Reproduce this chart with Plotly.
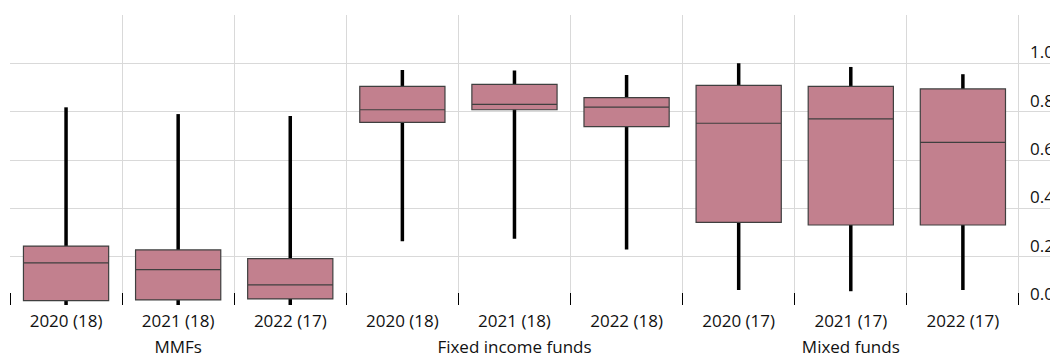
import plotly.graph_objects as go

# Fund groups and years (number of funds in brackets)
group_names = ["MMFs", "Fixed income funds", "Mixed funds"]
years = ["2020 (18)", "2021 (18)", "2022 (17)",
         "2020 (18)", "2021 (18)", "2022 (18)",
         "2020 (17)", "2021 (17)", "2022 (17)"]

# Distribution statistics per fund group and year
minimum = [0.0, 0.0, 0.0, 0.264, 0.274, 0.230, 0.062, 0.057, 0.062]
q1 = [0.018, 0.021, 0.025, 0.756, 0.808, 0.738, 0.342, 0.331, 0.331]
median = [0.174, 0.146, 0.083, 0.808, 0.830, 0.819, 0.752, 0.770, 0.673]
q3 = [0.244, 0.228, 0.192, 0.905, 0.913, 0.858, 0.909, 0.905, 0.894]
maximum = [0.818, 0.790, 0.782, 0.972, 0.970, 0.952, 1.0, 0.985, 0.955]

y_ticks = [0.0, 0.2, 0.4, 0.6, 0.8, 1.0, 1.2]
y_tick_text = ["0.0", "0.2", "0.4", "0.6", "0.8", "1.0", ""]

BOX_FILL = "#C2808E"
BOX_EDGE = "#3F3F3F"
GRID = "#D9D9D9"
FONT = "Open Sans"

# Category slots: one per year, three per group
pos = list(range(len(years)))
boundaries = [p - 0.5 for p in pos] + [pos[-1] + 0.5]
group_centers = [pos[3 * i + 1] for i in range(len(group_names))]

# Min-max ranges as thick capless error bars around the median, behind the boxes
err_up = [hi - m for hi, m in zip(maximum, median)]
err_down = [m - lo for m, lo in zip(median, minimum)]

fig = go.Figure()
fig.add_trace(go.Scatter(
    x=pos, y=median, mode="markers",
    marker=dict(size=1, color="rgba(0,0,0,0)"),
    error_y=dict(type="data", symmetric=False, array=err_up,
                 arrayminus=err_down, width=0, thickness=3.5,
                 color="#000000"),
    hoverinfo="skip", showlegend=False,
))
fig.add_trace(go.Box(
    x=pos, xaxis="x2",
    q1=q1, median=median, q3=q3,
    lowerfence=q1, upperfence=q3,
    fillcolor=BOX_FILL,
    line=dict(color=BOX_EDGE, width=1.2),
    whiskerwidth=0, width=0.76,
    boxpoints=False, showlegend=False, hoverinfo="skip",
))

fig.update_layout(
    width=1050, height=358,
    margin=dict(l=10, r=0, t=15, b=53, autoexpand=False),
    paper_bgcolor="white", plot_bgcolor="white",
    font=dict(family=FONT, size=17, color="#111111"),
    xaxis=dict(
        range=[-0.5, 8.777], automargin=False,
        tickmode="array", tickvals=pos, ticktext=years,
        ticks="", showgrid=False, zeroline=False, showline=False,
        ticklabelstandoff=4,
        minor=dict(tickmode="array", tickvals=boundaries,
                   ticks="inside", ticklen=12, tickcolor="#000000",
                   tickwidth=1, showgrid=True, gridcolor=GRID, gridwidth=1),
    ),
    xaxis2=dict(
        overlaying="x", matches="x", anchor="y", side="bottom",
        automargin=False,
        tickmode="array", tickvals=group_centers, ticktext=group_names,
        ticks="", showgrid=False, zeroline=False, showline=False,
        ticklabelstandoff=30,
    ),
    yaxis=dict(
        range=[0, 1.2], automargin=False,
        tickvals=y_ticks, ticktext=y_tick_text,
        showgrid=True, gridcolor=GRID, gridwidth=1,
        zeroline=False, showline=False, ticks="",
        side="right", anchor="free", position=0.9702,
        ticklabelshift=-11, ticklabelstandoff=10,
        tickfont=dict(size=17),
    ),
)

fig.write_html("out.html")
